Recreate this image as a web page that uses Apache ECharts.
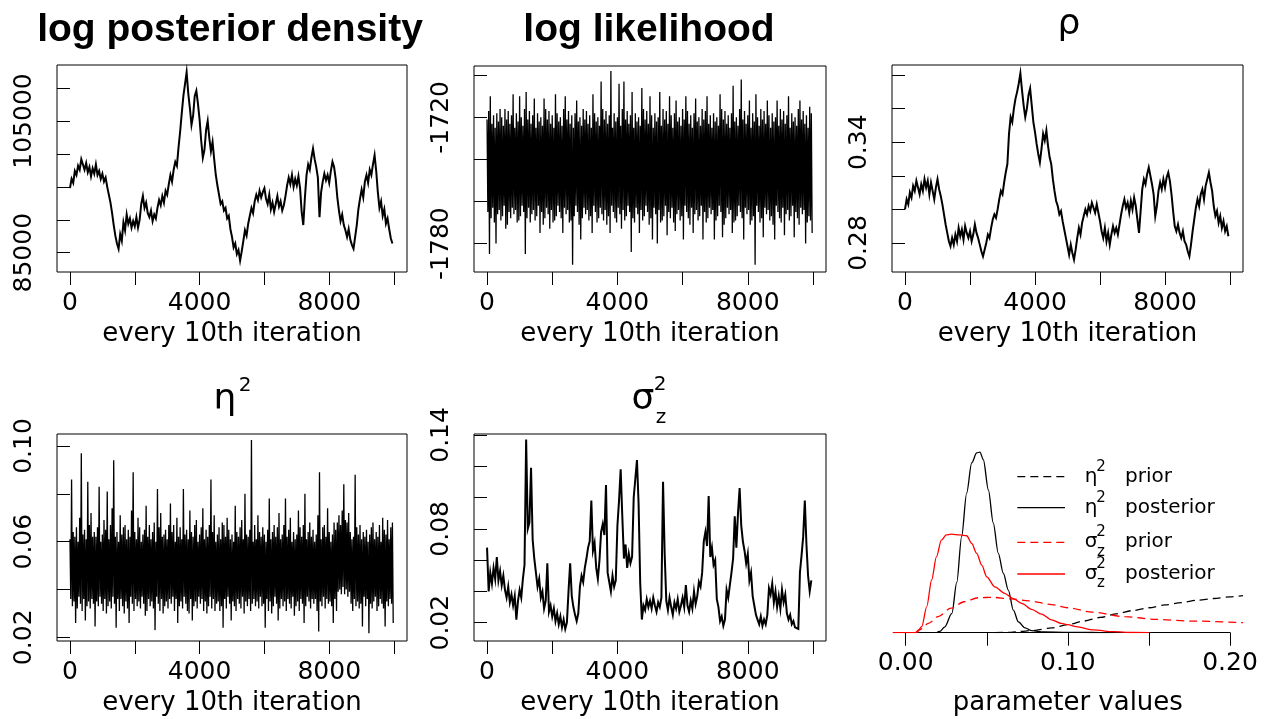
<!DOCTYPE html>
<html><head><meta charset="utf-8">
<script src="https://cdn.jsdelivr.net/npm/echarts@6/dist/echarts.min.js"></script>
<style>html,body{margin:0;padding:0;background:#fff}#c{width:1275px;height:719px}</style>
</head><body><div id="c"></div>
<script>
// ---------- data ----------
const iterStep = 50;   // smooth traces: one stored value per 50 plotted iterations
const noisyStep = 25;  // noisy traces: one stored value per 25 plotted iterations
const iterTicks = [0, 2000, 4000, 6000, 8000, 10000];
const iterLabels = [0, 4000, 8000];

const logPosterior = [
94800,96200,95600,97400,96800,98200,97600,99200,98400,97600,
98600,97200,98000,96600,97800,97000,98400,96800,97400,96200,
97000,95800,96400,95000,93800,92600,91000,89200,87600,86400,
85600,87800,86800,89600,88400,90800,89400,90200,88800,89800,
89000,90400,88800,90000,92400,93600,91800,92600,91000,90400,
91400,89800,90800,90200,91800,93000,92200,93600,92600,94400,
93800,95400,96800,95800,97600,98800,98200,101000,103400,106200,
108800,110600,112400,109200,107000,104400,105800,108800,109600,107600,
105200,102000,99400,100600,103600,105000,102400,100400,101800,99200,
96800,95200,93800,92400,92800,91400,91800,90200,90600,88600,
87400,85800,86400,84800,85400,83800,85200,86800,88400,87600,
89400,90600,91800,91000,92800,93800,93000,94400,93400,94200,
94800,93200,92400,93800,91600,92600,91200,92400,93600,92000,
92800,91400,92200,93600,95200,96400,95400,96800,95000,96200,
95200,96600,94800,91200,89200,93400,96800,98400,97600,99400,
100800,99200,98000,96400,90400,94200,95800,97000,96000,96800,
95600,97400,98800,98000,96200,93400,91400,89800,90800,89200,
88400,87400,88600,87000,86200,85600,87400,89200,91600,93200,
94600,93400,95800,96800,95600,97600,96800,98400,99800,97400,
94200,91800,92800,90600,91600,89400,90200,88600,87200,86400];
const lpTicks = [85000, 90000, 95000, 100000, 105000, 110000];
const lpLabels = [85000, 105000];

const logLikelihood = [
-1721,-1765,-1717,-1785,-1710,-1768,-1723,-1763,-1719,-1770,
-1725,-1780,-1718,-1766,-1722,-1764,-1716,-1769,-1720,-1767,
-1724,-1762,-1716,-1773,-1721,-1771,-1717,-1765,-1723,-1768,
-1719,-1763,-1709,-1766,-1725,-1764,-1718,-1770,-1722,-1769,
-1710,-1767,-1720,-1762,-1724,-1765,-1716,-1785,-1708,-1768,
-1721,-1763,-1717,-1770,-1723,-1766,-1719,-1764,-1711,-1769,
-1725,-1767,-1718,-1762,-1722,-1775,-1720,-1765,-1724,-1771,
-1711,-1768,-1716,-1763,-1721,-1766,-1717,-1773,-1723,-1764,
-1719,-1770,-1725,-1769,-1709,-1767,-1718,-1762,-1722,-1765,
-1720,-1768,-1724,-1775,-1716,-1763,-1710,-1766,-1721,-1764,
-1717,-1770,-1723,-1769,-1719,-1790,-1725,-1767,-1718,-1762,
-1712,-1765,-1722,-1771,-1720,-1778,-1724,-1768,-1716,-1763,
-1721,-1766,-1717,-1764,-1723,-1769,-1719,-1767,-1725,-1775,
-1709,-1762,-1718,-1765,-1722,-1770,-1720,-1768,-1724,-1763,
-1703,-1766,-1716,-1769,-1721,-1764,-1717,-1771,-1723,-1767,
-1719,-1775,-1698,-1762,-1725,-1765,-1718,-1768,-1722,-1770,
-1720,-1763,-1704,-1766,-1724,-1773,-1716,-1764,-1703,-1769,
-1721,-1767,-1717,-1762,-1723,-1765,-1719,-1784,-1708,-1768,
-1725,-1770,-1718,-1763,-1722,-1766,-1720,-1775,-1724,-1764,
-1706,-1769,-1716,-1767,-1721,-1762,-1717,-1765,-1723,-1771,
-1710,-1768,-1719,-1778,-1725,-1763,-1718,-1766,-1722,-1780,
-1720,-1764,-1708,-1770,-1724,-1769,-1716,-1767,-1721,-1762,
-1717,-1776,-1723,-1765,-1710,-1768,-1719,-1763,-1725,-1770,
-1718,-1774,-1712,-1766,-1722,-1764,-1720,-1769,-1724,-1767,
-1716,-1778,-1721,-1762,-1710,-1765,-1717,-1768,-1723,-1771,
-1719,-1763,-1725,-1775,-1718,-1766,-1711,-1764,-1722,-1769,
-1720,-1767,-1724,-1762,-1716,-1778,-1721,-1765,-1717,-1770,
-1710,-1768,-1723,-1763,-1719,-1766,-1725,-1764,-1718,-1778,
-1722,-1769,-1720,-1767,-1724,-1762,-1709,-1765,-1716,-1777,
-1721,-1771,-1717,-1768,-1723,-1763,-1719,-1766,-1725,-1764,
-1718,-1775,-1705,-1770,-1722,-1769,-1720,-1767,-1724,-1762,
-1716,-1765,-1702,-1768,-1721,-1778,-1717,-1763,-1723,-1766,
-1719,-1764,-1712,-1771,-1725,-1769,-1718,-1767,-1722,-1790,
-1709,-1762,-1720,-1765,-1724,-1770,-1716,-1768,-1721,-1777,
-1717,-1763,-1723,-1766,-1712,-1764,-1719,-1769,-1725,-1767,
-1718,-1771,-1722,-1778,-1720,-1762,-1712,-1765,-1724,-1768,
-1716,-1770,-1721,-1763,-1717,-1776,-1723,-1766,-1719,-1764,
-1710,-1769,-1725,-1767,-1718,-1762,-1722,-1777,-1720,-1765,
-1724,-1768,-1716,-1771,-1712,-1763,-1721,-1766,-1717,-1764,
-1723,-1780,-1719,-1770,-1725,-1767,-1715,-1769,-1718,-1775];
const llTicks = [-1780, -1760, -1740, -1720, -1700];
const llLabels = [-1780, -1720];

const rho = [
0.300,0.306,0.303,0.310,0.307,0.314,0.311,0.317,0.313,0.309,
0.315,0.311,0.318,0.313,0.317,0.309,0.316,0.311,0.306,0.313,
0.318,0.312,0.308,0.303,0.297,0.291,0.286,0.281,0.278,0.283,
0.279,0.285,0.281,0.289,0.284,0.288,0.282,0.290,0.286,0.283,
0.287,0.281,0.285,0.291,0.286,0.283,0.279,0.275,0.272,0.276,
0.280,0.285,0.283,0.289,0.294,0.297,0.295,0.300,0.306,0.311,
0.309,0.316,0.322,0.327,0.345,0.355,0.352,0.360,0.366,0.370,
0.375,0.381,0.371,0.362,0.355,0.360,0.368,0.372,0.362,0.352,
0.346,0.339,0.333,0.328,0.336,0.345,0.341,0.347,0.338,0.331,
0.327,0.318,0.311,0.305,0.302,0.297,0.299,0.293,0.288,0.283,
0.278,0.273,0.279,0.274,0.270,0.276,0.283,0.289,0.285,0.292,
0.296,0.300,0.297,0.302,0.299,0.304,0.301,0.298,0.303,0.298,
0.293,0.287,0.283,0.289,0.281,0.286,0.279,0.285,0.290,0.286,
0.289,0.285,0.291,0.297,0.302,0.306,0.301,0.304,0.298,0.305,
0.300,0.307,0.302,0.294,0.286,0.299,0.312,0.318,0.315,0.321,
0.325,0.320,0.315,0.309,0.296,0.302,0.311,0.316,0.312,0.318,
0.313,0.319,0.322,0.317,0.309,0.299,0.290,0.287,0.291,0.286,
0.283,0.287,0.281,0.279,0.275,0.272,0.279,0.287,0.294,0.301,
0.306,0.302,0.309,0.312,0.306,0.314,0.318,0.322,0.316,0.311,
0.302,0.296,0.299,0.292,0.296,0.289,0.293,0.287,0.290,0.284];
const rhoTicks = [0.28, 0.30, 0.32, 0.34, 0.36, 0.38];
const rhoLabels = [0.28, 0.34];

const eta2 = [
0.061,0.036,0.086,0.033,0.064,0.035,0.062,0.026,0.066,0.032,
0.060,0.037,0.070,0.034,0.097,0.031,0.063,0.036,0.065,0.027,
0.061,0.033,0.085,0.035,0.067,0.032,0.072,0.036,0.062,0.034,
0.064,0.0245,0.062,0.035,0.066,0.033,0.083,0.037,0.060,0.034,
0.063,0.031,0.069,0.036,0.065,0.030,0.081,0.033,0.061,0.035,
0.067,0.032,0.074,0.037,0.094,0.034,0.062,0.024,0.064,0.036,
0.060,0.031,0.071,0.036,0.063,0.033,0.066,0.030,0.067,0.035,
0.061,0.032,0.065,0.026,0.062,0.037,0.073,0.034,0.089,0.031,
0.064,0.036,0.061,0.033,0.070,0.035,0.066,0.032,0.060,0.037,
0.063,0.034,0.065,0.029,0.075,0.031,0.062,0.036,0.067,0.033,
0.061,0.035,0.064,0.032,0.068,0.023,0.060,0.037,0.082,0.034,
0.066,0.031,0.072,0.036,0.062,0.030,0.063,0.033,0.065,0.035,
0.061,0.032,0.067,0.036,0.076,0.034,0.064,0.037,0.067,0.031,
0.060,0.036,0.070,0.026,0.062,0.033,0.066,0.035,0.061,0.032,
0.082,0.037,0.063,0.034,0.065,0.031,0.061,0.030,0.073,0.036,
0.064,0.027,0.062,0.033,0.067,0.035,0.069,0.032,0.060,0.037,
0.063,0.034,0.066,0.036,0.074,0.031,0.061,0.035,0.065,0.030,
0.062,0.033,0.067,0.037,0.086,0.032,0.064,0.036,0.071,0.031,
0.060,0.034,0.063,0.035,0.066,0.031,0.061,0.033,0.068,0.024,
0.067,0.036,0.062,0.032,0.070,0.037,0.065,0.034,0.061,0.027,
0.063,0.035,0.060,0.033,0.075,0.031,0.064,0.036,0.062,0.034,
0.066,0.032,0.069,0.037,0.061,0.030,0.080,0.035,0.063,0.033,
0.062,0.036,0.065,0.031,0.1025,0.034,0.060,0.036,0.067,0.033,
0.061,0.035,0.071,0.032,0.064,0.037,0.062,0.033,0.066,0.034,
0.063,0.024,0.060,0.036,0.065,0.031,0.078,0.035,0.061,0.030,
0.064,0.033,0.067,0.037,0.062,0.034,0.066,0.027,0.072,0.032,
0.061,0.036,0.063,0.033,0.067,0.035,0.078,0.031,0.062,0.036,
0.065,0.034,0.070,0.032,0.060,0.037,0.064,0.029,0.061,0.033,
0.063,0.035,0.073,0.031,0.066,0.036,0.062,0.034,0.067,0.026,
0.080,0.033,0.061,0.037,0.064,0.035,0.068,0.032,0.062,0.036,
0.065,0.034,0.060,0.036,0.063,0.031,0.071,0.0224,0.089,0.035,
0.061,0.033,0.066,0.037,0.067,0.032,0.062,0.036,0.074,0.034,
0.064,0.035,0.060,0.033,0.063,0.026,0.068,0.036,0.065,0.031,
0.068,0.039,0.071,0.040,0.067,0.038,0.073,0.041,0.084,0.038,
0.069,0.040,0.068,0.037,0.072,0.039,0.064,0.034,0.061,0.031,
0.062,0.036,0.088,0.033,0.066,0.035,0.063,0.032,0.067,0.034,
0.061,0.0245,0.064,0.037,0.062,0.033,0.065,0.036,0.060,0.0217,
0.063,0.034,0.066,0.032,0.068,0.035,0.061,0.037,0.064,0.031,
0.062,0.033,0.067,0.036,0.060,0.034,0.070,0.032,0.065,0.0245,
0.063,0.035,0.069,0.033,0.061,0.036,0.066,0.034,0.068,0.026];
const etaTicks = [0.02, 0.04, 0.06, 0.08, 0.10];
const etaLabels = [0.02, 0.06, 0.10];

const sigmaZ2 = [
0.068,0.040,0.052,0.045,0.055,0.048,0.062,0.047,0.053,0.044,
0.050,0.041,0.036,0.043,0.033,0.038,0.031,0.037,0.022,0.034,
0.041,0.036,0.048,0.057,0.137,0.080,0.084,0.119,0.073,0.061,
0.052,0.043,0.048,0.036,0.040,0.029,0.034,0.058,0.027,0.031,
0.024,0.029,0.021,0.026,0.019,0.024,0.017,0.022,0.016,0.020,
0.040,0.058,0.037,0.030,0.025,0.021,0.026,0.043,0.050,0.046,
0.055,0.061,0.068,0.072,0.098,0.066,0.071,0.055,0.048,0.060,
0.078,0.083,0.076,0.108,0.052,0.046,0.040,0.050,0.043,0.047,
0.082,0.098,0.118,0.088,0.061,0.070,0.055,0.064,0.058,0.062,
0.100,0.112,0.124,0.096,0.045,0.022,0.031,0.028,0.035,0.030,
0.034,0.029,0.036,0.031,0.027,0.033,0.030,0.036,0.110,0.064,
0.034,0.028,0.036,0.030,0.025,0.033,0.029,0.035,0.027,0.031,
0.036,0.030,0.044,0.031,0.027,0.034,0.029,0.040,0.032,0.037,
0.046,0.043,0.052,0.072,0.078,0.069,0.101,0.062,0.068,0.057,
0.060,0.035,0.030,0.021,0.024,0.018,0.022,0.041,0.036,0.044,
0.052,0.061,0.088,0.068,0.090,0.106,0.082,0.072,0.066,0.058,
0.064,0.047,0.052,0.037,0.031,0.025,0.022,0.019,0.024,0.018,
0.022,0.019,0.025,0.042,0.038,0.045,0.033,0.040,0.030,0.037,
0.029,0.041,0.033,0.038,0.026,0.022,0.025,0.019,0.021,0.017,
0.018,0.016,0.052,0.063,0.075,0.098,0.070,0.050,0.040,0.047];
const sigTicks = [0.02, 0.04, 0.06, 0.08, 0.10, 0.12, 0.14];
const sigLabels = [0.02, 0.08, 0.14];

// density curves: [parameter value, density]
const etaPrior = [[0.055,0],[0.065,0.1],[0.070,0.3],[0.080,0.6],[0.090,1.2],[0.100,2.0],[0.110,2.9],[0.120,3.8],[0.130,4.7],[0.140,5.5],[0.150,6.2],[0.160,6.9],[0.170,7.5],[0.180,8.1],[0.190,8.5],[0.200,8.9],[0.208,9.2]];
const etaPosterior = [[0.019,0],[0.021,0.3],[0.024,1.4],[0.0285,4.8],[0.0315,12.5],[0.0345,23.9],[0.0376,34.7],[0.0407,42.2],[0.0438,44.7],[0.0458,44.9],[0.0479,43.0],[0.051,35.5],[0.054,27.3],[0.0571,19.8],[0.0602,14.8],[0.0633,10.6],[0.0664,5.6],[0.0695,2.7],[0.0736,1.2],[0.0777,0.5],[0.085,0.2],[0.100,0.1],[0.115,0.05],[0.128,0]];
const sigPrior = [[0.006,0],[0.009,0.8],[0.014,2.3],[0.020,4.0],[0.028,6.1],[0.036,7.7],[0.045,8.7],[0.053,8.8],[0.065,8.4],[0.076,7.9],[0.090,7.0],[0.100,6.2],[0.115,5.1],[0.135,4.0],[0.155,3.3],[0.175,2.9],[0.208,2.5]];
const sigPosterior = [[-0.008,0],[0.0068,0],[0.0099,1.5],[0.013,6.5],[0.016,13.1],[0.019,18.9],[0.022,23.0],[0.025,24.3],[0.028,24.5],[0.0335,24.3],[0.0376,24.1],[0.0407,22.2],[0.0438,19.7],[0.0469,16.8],[0.050,13.9],[0.055,11.4],[0.061,9.8],[0.066,8.55],[0.0715,7.3],[0.0777,5.8],[0.0838,4.6],[0.090,3.2],[0.096,2.3],[0.100,2.0],[0.105,1.5],[0.116,0.7],[0.128,0.25],[0.140,0.05],[0.150,0]];
const paramTicks = [0, 0.05, 0.10, 0.15, 0.20];
const paramLabels = [0, 0.10, 0.20];

// ---------- layout ----------
const FONT = 'DejaVu Sans';
const fmt0 = v => String(v);
const fmt2 = v => v.toFixed(2);
const panels = [
  {box:[57,65,350,207], data:logPosterior, step:iterStep, ymin:82070, ymax:113500, ticks:lpTicks, labels:lpLabels, fmt:fmt0, lw:2},
  {box:[474,66,352,206], data:logLikelihood, step:noisyStep, ymin:-1793.5, ymax:-1695.6, ticks:llTicks, labels:llLabels, fmt:fmt0, lw:1.3},
  {box:[892,65,351,207], data:rho, step:iterStep, ymin:0.2627, ymax:0.386, ticks:rhoTicks, labels:rhoLabels, fmt:fmt2, lw:2},
  {box:[57,434,350,207], data:eta2, step:noisyStep, ymin:0.01845, ymax:0.10502, ticks:etaTicks, labels:etaLabels, fmt:fmt2, lw:1.3},
  {box:[474,434,352,207], data:sigmaZ2, step:iterStep, ymin:0.0083, ymax:0.1406, ticks:sigTicks, labels:sigLabels, fmt:fmt2, lw:2}
];

const grids = [], xAxes = [], yAxes = [], series = [];
const tickStyle = {color:'#000', width:1};
const labelStyle = {fontSize:25, fontFamily:FONT, color:'#000'};
const nameStyle = {fontSize:26, fontFamily:FONT, color:'#000'};
panels.forEach((p, i) => {
  grids.push({left:p.box[0], top:p.box[1], width:p.box[2], height:p.box[3], show:true, borderColor:'#000', borderWidth:1, containLabel:false, outerBoundsMode:'none'});
  xAxes.push({gridIndex:i, type:'value', min:-400, max:10400,
    axisLine:{show:false}, splitLine:{show:false},
    axisTick:{show:true, customValues:iterTicks, length:13, lineStyle:tickStyle},
    axisLabel:Object.assign({customValues:iterLabels, margin:19, formatter:fmt0}, labelStyle),
    name:'every 10th iteration', nameLocation:'middle', nameGap:49, nameTextStyle:nameStyle});
  yAxes.push({gridIndex:i, type:'value', min:p.ymin, max:p.ymax,
    axisLine:{show:false}, splitLine:{show:false},
    axisTick:{show:true, customValues:p.ticks, length:13, lineStyle:tickStyle},
    axisLabel:Object.assign({customValues:p.labels, rotate:90, margin:20, formatter:p.fmt}, labelStyle)});
  series.push({type:'line', xAxisIndex:i, yAxisIndex:i, data:p.data.map((v,k)=>[k*p.step, v]),
    showSymbol:false, symbol:'none', lineStyle:{color:'#000', width:p.lw, join:'miter'}, animation:false, silent:true});
});

// density panel (data grid + axis grid)
grids.push({left:892.7, top:434, width:350.3, height:198.7, show:false, containLabel:false, outerBoundsMode:'none'});
xAxes.push({gridIndex:5, type:'value', min:-0.008, max:0.208, show:false});
yAxes.push({gridIndex:5, type:'value', min:0, max:49.4, show:false});
grids.push({left:905.7, top:434, width:324.3, height:198.7, show:false, containLabel:false, outerBoundsMode:'none'});
xAxes.push({gridIndex:6, type:'value', min:0, max:0.2,
  axisLine:{show:true, lineStyle:tickStyle}, splitLine:{show:false},
  axisTick:{show:true, customValues:paramTicks, length:13, lineStyle:tickStyle},
  axisLabel:Object.assign({customValues:paramLabels, margin:18, formatter:fmt2}, labelStyle),
  name:'parameter values', nameLocation:'middle', nameGap:58, nameTextStyle:nameStyle});
yAxes.push({gridIndex:6, type:'value', min:0, max:1, show:false});

const dens = (data, color, dashed) => ({type:'line', xAxisIndex:5, yAxisIndex:5, data,
  smooth:0.3, smoothMonotone:'x', showSymbol:false, symbol:'none',
  lineStyle:{color, width:1.3, type: dashed ? [8,5] : 'solid'}, animation:false, silent:true});
series.push(dens(etaPrior, '#000', true));
series.push(dens(etaPosterior, '#000', false));
series.push(dens(sigPrior, '#ff0000', true));
series.push(dens(sigPosterior, '#ff0000', false));

// ---------- titles & legend (text) ----------
const txt = (text, x, y, font, align) => ({type:'text', silent:true,
  style:{text, x, y, font, fill:'#000', align:align||'center', textAlign:align||'center', verticalAlign:'middle', textVerticalAlign:'middle'}});
const TB = 'bold 39px "Liberation Sans"';
const G = '36px "DejaVu Sans"';
const S = '20px "DejaVu Sans"';
const graphics = [
  txt('log posterior density', 230, 29.8, TB),
  txt('log likelihood', 649, 29.8, TB),
  txt('\u03c1', 1069, 25, G),
  txt('\u03b7', 225, 399.5, G),
  txt('2', 245, 386, S),
  txt('\u03c3', 643, 399.5, G),
  txt('2', 660, 385, S),
  txt('z', 661, 418, S)
];
const legendRows = [
  {y:476.7, color:'#000', dash:true, sym:'\u03b7', sub:false, label:'prior'},
  {y:507.7, color:'#000', dash:false, sym:'\u03b7', sub:false, label:'posterior'},
  {y:542.3, color:'#ff0000', dash:true, sym:'\u03c3', sub:true, label:'prior'},
  {y:574, color:'#ff0000', dash:false, sym:'\u03c3', sub:true, label:'posterior'}
];
const LF = '20px "DejaVu Sans"';
const LS = '15px "DejaVu Sans"';
legendRows.forEach(r => {
  graphics.push({type:'line', silent:true, shape:{x1:1017.3, y1:r.y, x2:1065, y2:r.y},
    style:{stroke:r.color, lineWidth:1.3, lineDash: r.dash ? [8,5] : null}});
  const base = r.y + 6.6;
  graphics.push(txt(r.sym, 1091, base - 6.9, LF));
  graphics.push(txt('2', 1101, base - 16.5, LS));
  if (r.sub) graphics.push(txt('z', 1101, base + 2.8, LS));
  graphics.push(txt(r.label, 1125, base - 6.9, LF, 'left'));
});

const chart = echarts.init(document.getElementById('c'), null, {renderer:'canvas'});
chart.setOption({animation:false, backgroundColor:'#fff', grid:grids, xAxis:xAxes, yAxis:yAxes, series, graphic:{elements:graphics}});
</script></body></html>
